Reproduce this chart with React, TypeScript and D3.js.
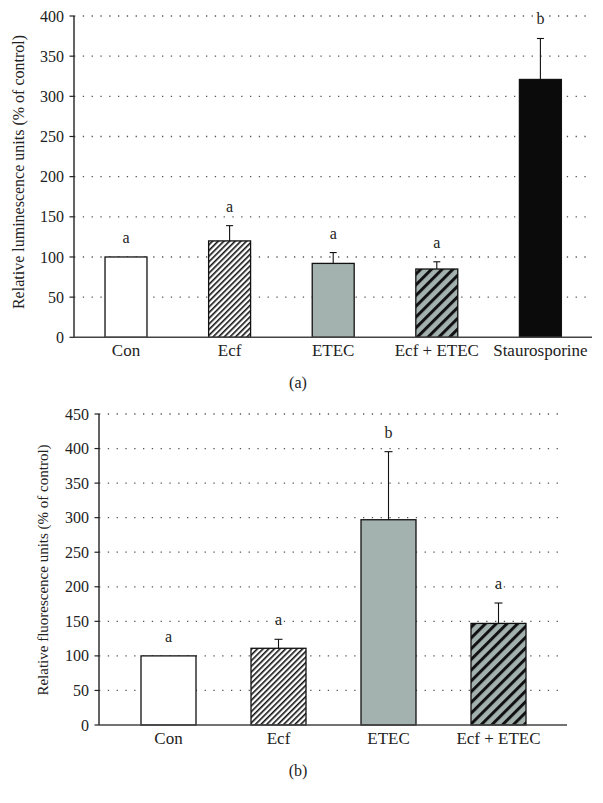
import React from "react";
import * as d3 from "d3";

const categoriesA = ["Con", "Ecf", "ETEC", "Ecf + ETEC", "Staurosporine"];
const meansA = [100, 120, 92, 85, 321];
const errorsA = [0, 19, 13.5, 9, 51];
const lettersA = ["a", "a", "a", "a", "b"];
const ticksA = [0, 50, 100, 150, 200, 250, 300, 350, 400];
const fillsA = ["white", "url(#hatchThin)", "#a4b2af", "url(#hatchThick)", "#0b0b0b"];

const categoriesB = ["Con", "Ecf", "ETEC", "Ecf + ETEC"];
const meansB = [100, 111, 297, 147];
const errorsB = [0, 13, 98.5, 29.5];
const lettersB = ["a", "a", "b", "a"];
const ticksB = [0, 50, 100, 150, 200, 250, 300, 350, 400, 450];
const fillsB = ["white", "url(#hatchThin)", "#a4b2af", "url(#hatchThick)"];

const FONT = "Liberation Serif, serif";

type PanelProps = {
  categories: string[];
  means: number[];
  errors: number[];
  letters: string[];
  ticks: number[];
  fills: string[];
  axisLeft: number;
  axisRight: number;
  gridRight: number;
  bandLeft: number;
  bandRight: number;
  y0: number;
  yTop: number;
  yMax: number;
  barFrac: number;
  cap: number;
  title: string;
  titleX: number;
  titleY: number;
  titleSize: number;
  panelLabel: string;
  panelY: number;
};

function Panel(p: PanelProps) {
  const x = d3.scaleBand<string>().domain(p.categories).range([p.bandLeft, p.bandRight]).padding(0);
  const y = d3.scaleLinear().domain([0, p.yMax]).range([p.y0, p.yTop]);
  const bw = x.bandwidth() * p.barFrac;
  return (
    <g>
      {p.ticks.map((t) => (
        <g key={t}>
          {t > 0 && (
            <line x1={p.axisLeft} x2={p.gridRight} y1={y(t)} y2={y(t)} stroke="#555" strokeWidth={1.3} strokeDasharray="1.3 7.5" />
          )}
          <line x1={p.axisLeft - 4.5} x2={p.axisLeft} y1={y(t)} y2={y(t)} stroke="#222" strokeWidth={1.2} />
          <text x={p.axisLeft - 10} y={y(t)} dy="0.35em" textAnchor="end" fontSize={16} style={{ fontFamily: FONT }} fill="#222">
            {t}
          </text>
        </g>
      ))}
      {p.categories.map((c, i) => {
        const cx = (x(c) as number) + x.bandwidth() / 2;
        const top = y(p.means[i]);
        const errTop = y(p.means[i] + p.errors[i]);
        return (
          <g key={c}>
            <rect x={cx - bw / 2} y={top} width={bw} height={p.y0 - top} fill={p.fills[i]} stroke="#111" strokeWidth={1.3} />
            {p.errors[i] > 0 && (
              <g stroke="#111" strokeWidth={1.1}>
                <line x1={cx} x2={cx} y1={top} y2={errTop} />
                <line x1={cx - p.cap / 2} x2={cx + p.cap / 2} y1={errTop} y2={errTop} />
              </g>
            )}
            <text x={cx} y={errTop - 14} textAnchor="middle" fontSize={16} style={{ fontFamily: FONT }} fill="#222">
              {p.letters[i]}
            </text>
            <text x={cx} y={p.y0 + 19} textAnchor="middle" fontSize={17} style={{ fontFamily: FONT }} fill="#222">
              {c}
            </text>
          </g>
        );
      })}
      <line x1={p.axisLeft} x2={p.axisLeft} y1={p.yTop} y2={p.y0} stroke="#222" strokeWidth={1.4} />
      <line x1={p.axisLeft} x2={p.axisRight} y1={p.y0} y2={p.y0} stroke="#444" strokeWidth={1.4} />
      <text
        transform={`translate(${p.titleX},${p.titleY}) rotate(-90)`}
        dy="0.35em"
        textAnchor="middle"
        fontSize={p.titleSize}
        style={{ fontFamily: FONT }}
        fill="#222"
      >
        {p.title}
      </text>
      <text x={298} y={p.panelY} dy="0.35em" textAnchor="middle" fontSize={16} style={{ fontFamily: FONT }} fill="#222">
        {p.panelLabel}
      </text>
    </g>
  );
}

export default function App() {
  return (
    <svg width={603} height={803} style={{ position: "absolute", left: 0, top: 0, background: "white" }}>
      <defs>
        <pattern id="hatchThin" width={4} height={4} patternUnits="userSpaceOnUse" patternTransform="rotate(45)">
          <rect width={4} height={4} fill="white" />
          <line x1={0.8} y1={0} x2={0.8} y2={4} stroke="#111" strokeWidth={1.6} />
        </pattern>
        <pattern id="hatchThick" width={7.6} height={7.6} patternUnits="userSpaceOnUse" patternTransform="rotate(45)">
          <rect width={7.6} height={7.6} fill="#a4b2af" />
          <line x1={1.5} y1={0} x2={1.5} y2={7.6} stroke="#111" strokeWidth={3} />
        </pattern>
      </defs>
      <rect width={603} height={803} fill="white" />
      <Panel
        categories={categoriesA}
        means={meansA}
        errors={errorsA}
        letters={lettersA}
        ticks={ticksA}
        fills={fillsA}
        axisLeft={74}
        axisRight={592}
        gridRight={591}
        bandLeft={74.2}
        bandRight={592.2}
        y0={337.3}
        yTop={16}
        yMax={400}
        barFrac={0.405}
        cap={7}
        title="Relative luminescence units (% of control)"
        titleX={18}
        titleY={172}
        titleSize={16}
        panelLabel="(a)"
        panelY={382}
      />
      <Panel
        categories={categoriesB}
        means={meansB}
        errors={errorsB}
        letters={lettersB}
        ticks={ticksB}
        fills={fillsB}
        axisLeft={99}
        axisRight={567}
        gridRight={561}
        bandLeft={113.5}
        bandRight={553.5}
        y0={725}
        yTop={414}
        yMax={450}
        barFrac={0.5}
        cap={8}
        title="Relative fluorescence units (% of control)"
        titleX={43}
        titleY={570}
        titleSize={15}
        panelLabel="(b)"
        panelY={770}
      />
    </svg>
  );
}
